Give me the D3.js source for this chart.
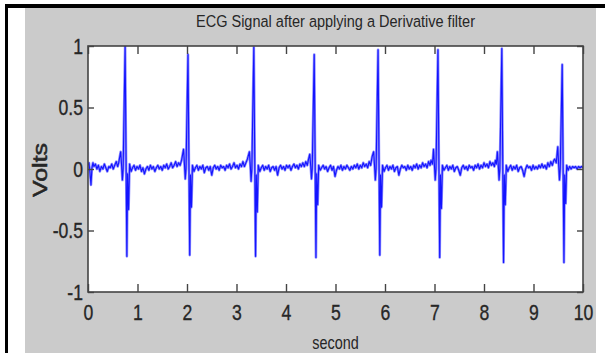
<!DOCTYPE html>
<html>
<head>
<meta charset="utf-8">
<script src="https://cdn.jsdelivr.net/npm/d3@7"></script>
<style>
  body { margin: 0; background: #fff; }
  svg { display: block; }
  text { font-family: "Liberation Sans", Arial, Helvetica, sans-serif; fill: #262626; }
</style>
</head>
<body>
<div id="chart"></div>
<script>
const chartTitle = 'ECG Signal after applying a Derivative filter';
const xLabel = 'second';
const yLabel = 'Volts';
const xTicks = [0, 1, 2, 3, 4, 5, 6, 7, 8, 9, 10];
const yTicks = [-1, -0.5, 0, 0.5, 1];
const yTickLabels = ['-1', '-0.5', '0', '0.5', '1'];

// [second, volts]
const ecgPoints = [
  [0.00,0.03],[0.02,0.05],[0.04,-0.03],[0.06,-0.13],[0.08,0.01],[0.10,0.05],[0.12,0.02],[0.15,0.04],
  [0.18,0.00],[0.21,0.03],[0.24,-0.02],[0.27,0.02],[0.30,0.00],[0.33,0.04],[0.36,0.01],[0.39,-0.02],
  [0.42,0.02],[0.45,0.01],[0.48,0.04],[0.51,0.00],[0.54,0.03],[0.57,0.06],[0.60,0.02],
  [0.62,0.05],[0.66,0.14],[0.68,0.02],[0.695,-0.09],[0.71,0.00],[0.75,1.00],[0.785,-0.71],[0.80,-0.04],
  [0.82,-0.33],[0.84,0.04],[0.87,-0.02],
  [0.90,0.01],[0.93,0.03],[0.96,-0.01],[0.99,0.02],[1.02,0.00],[1.05,0.03],[1.08,-0.02],[1.11,0.01],
  [1.14,-0.04],[1.17,0.00],[1.20,0.02],[1.23,-0.01],[1.26,0.03],[1.29,0.00],[1.32,0.02],[1.35,-0.02],
  [1.38,0.01],[1.41,0.03],[1.44,0.00],[1.47,0.02],[1.50,-0.01],[1.53,0.03],[1.56,0.01],[1.59,0.04],
  [1.62,0.00],[1.65,0.02],[1.68,0.05],[1.71,0.01],[1.74,0.03],[1.77,0.06],[1.80,0.02],[1.83,0.05],
  [1.86,0.03],[1.89,0.07],
  [1.93,0.16],[1.95,0.03],[1.965,-0.08],[1.98,0.00],[2.02,0.93],[2.055,-0.70],[2.07,-0.05],
  [2.09,-0.31],[2.11,0.03],[2.14,-0.02],
  [2.17,0.01],[2.20,0.03],[2.23,-0.01],[2.26,0.02],[2.29,0.00],[2.32,0.03],[2.35,-0.03],[2.38,0.01],
  [2.41,0.02],[2.44,-0.01],[2.47,0.02],[2.50,-0.05],[2.53,0.01],[2.56,0.03],[2.59,0.00],[2.62,0.02],
  [2.65,-0.01],[2.68,0.03],[2.71,0.01],[2.74,0.02],[2.77,-0.01],[2.80,0.03],[2.83,0.01],[2.86,0.04],
  [2.89,0.00],[2.92,0.02],[2.95,0.05],[2.98,0.01],[3.01,0.03],[3.04,0.00],[3.07,0.04],[3.10,0.02],
  [3.13,0.06],[3.16,0.02],[3.19,0.05],[3.22,0.08],
  [3.26,0.14],[3.28,0.02],[3.295,-0.10],[3.31,0.00],[3.35,0.99],[3.385,-0.71],[3.40,-0.05],
  [3.42,-0.35],[3.44,0.03],[3.47,-0.02],
  [3.50,0.01],[3.53,0.03],[3.56,-0.01],[3.59,0.02],[3.62,0.00],[3.65,0.03],[3.68,-0.02],[3.71,0.01],
  [3.74,0.02],[3.77,-0.01],[3.80,0.02],[3.83,-0.05],[3.86,0.01],[3.89,0.03],[3.92,0.00],[3.95,0.02],
  [3.98,-0.01],[4.01,0.03],[4.04,0.01],[4.07,0.03],[4.10,-0.01],[4.13,0.02],[4.16,0.04],[4.19,0.01],
  [4.22,0.03],[4.25,0.00],[4.28,0.04],[4.31,0.02],[4.34,0.05],[4.37,0.02],[4.40,0.06],[4.43,0.03],[4.45,0.07],
  [4.48,0.12],[4.50,0.02],[4.515,-0.08],[4.53,0.00],[4.57,0.93],[4.605,-0.72],[4.62,-0.04],
  [4.64,-0.29],[4.66,0.03],[4.69,-0.01],
  [4.72,0.01],[4.75,0.03],[4.78,0.00],[4.81,0.02],[4.84,-0.02],[4.87,0.01],[4.90,0.03],[4.93,-0.01],
  [4.96,0.02],[4.99,-0.06],[5.02,-0.01],[5.05,0.02],[5.08,0.00],[5.11,0.03],[5.14,-0.01],[5.17,0.02],
  [5.20,0.00],[5.23,0.03],[5.26,0.01],[5.29,-0.01],[5.32,0.02],[5.35,0.00],[5.38,0.03],[5.41,0.01],
  [5.44,0.04],[5.47,0.00],[5.50,0.03],[5.53,0.01],[5.56,0.05],[5.59,0.02],[5.62,0.04],[5.65,0.01],
  [5.68,0.06],[5.71,0.03],
  [5.74,0.10],[5.77,0.14],[5.79,0.02],[5.805,-0.09],[5.82,0.00],[5.86,0.97],[5.895,-0.70],
  [5.91,-0.05],[5.93,-0.31],[5.95,0.03],[5.98,-0.02],
  [6.01,0.01],[6.04,0.03],[6.07,-0.01],[6.10,0.02],[6.13,0.00],[6.16,0.03],[6.19,-0.02],[6.22,0.01],
  [6.25,0.02],[6.28,-0.05],[6.31,0.00],[6.34,0.03],[6.37,0.01],[6.40,0.02],[6.43,-0.01],[6.46,0.03],
  [6.49,0.00],[6.52,0.02],[6.55,-0.01],[6.58,0.03],[6.61,0.01],[6.64,0.04],[6.67,0.00],[6.70,0.03],
  [6.73,0.01],[6.76,0.05],[6.79,0.02],[6.82,0.04],[6.85,0.01],[6.88,0.06],[6.91,0.03],
  [6.93,0.07],[6.96,0.04],[6.98,0.16],[7.00,0.02],[7.015,-0.09],[7.03,0.00],[7.07,0.97],[7.105,-0.72],
  [7.12,-0.05],[7.14,-0.32],[7.16,0.03],[7.19,-0.01],
  [7.22,0.01],[7.25,0.03],[7.28,-0.01],[7.31,0.02],[7.34,0.00],[7.37,0.03],[7.40,-0.02],[7.43,0.01],
  [7.46,0.02],[7.49,-0.01],[7.52,-0.05],[7.55,0.01],[7.58,0.03],[7.61,0.00],[7.64,0.02],[7.67,-0.01],
  [7.70,0.03],[7.73,0.01],[7.76,0.02],[7.79,-0.01],[7.82,0.03],[7.85,0.01],[7.88,0.04],[7.91,0.00],
  [7.94,0.03],[7.97,0.01],[8.00,0.05],[8.03,0.02],[8.06,0.04],[8.09,0.01],[8.12,0.06],[8.15,0.03],
  [8.18,0.05],[8.21,0.02],
  [8.23,0.07],[8.25,0.04],[8.27,0.14],[8.29,0.02],[8.305,-0.09],[8.32,0.00],[8.36,0.98],[8.395,-0.76],
  [8.41,-0.05],[8.43,-0.29],[8.45,0.03],[8.48,-0.02],
  [8.51,0.01],[8.54,0.03],[8.57,-0.01],[8.60,0.02],[8.63,0.00],[8.66,0.03],[8.69,-0.02],[8.72,0.01],
  [8.75,0.02],[8.78,-0.01],[8.81,-0.06],[8.84,0.00],[8.87,0.03],[8.90,0.01],[8.93,0.02],[8.96,-0.01],
  [8.99,0.03],[9.02,0.00],[9.05,0.02],[9.08,0.00],[9.11,0.03],[9.14,0.01],[9.17,0.04],[9.20,0.01],
  [9.23,0.03],[9.26,0.00],[9.29,0.05],[9.32,0.02],[9.35,0.06],[9.38,0.03],[9.41,0.07],
  [9.43,0.08],[9.46,0.05],[9.49,0.18],[9.51,0.02],[9.525,-0.09],[9.54,0.00],[9.58,0.85],[9.615,-0.76],
  [9.63,-0.05],[9.65,-0.28],[9.67,0.03],[9.70,-0.01],
  [9.73,0.02],[9.76,0.00],[9.79,0.02],[9.82,0.01],[9.85,0.02],[9.88,0.00],[9.91,0.02],[9.94,0.01],
  [9.97,0.02],[10.00,0.01]
];

const width = 605, height = 353;
const box = { left: 88, top: 46, right: 583, bottom: 292 };
const axisColor = '#444';

const svg = d3.select('#chart')
  .append('svg')
  .attr('width', width)
  .attr('height', height);

// page frame + grey figure background
svg.append('rect').attr('width', width).attr('height', height).attr('fill', '#fff');
svg.append('rect').attr('x', 25).attr('y', 8).attr('width', 571).attr('height', height - 8).attr('fill', '#cbcbcb');
svg.append('rect').attr('x', 5).attr('y', 4).attr('width', width - 5).attr('height', 4).attr('fill', '#000');
svg.append('rect').attr('x', 5).attr('y', 4).attr('width', 3).attr('height', height - 4).attr('fill', '#000');

svg.append('rect')
  .attr('x', box.left).attr('y', box.top)
  .attr('width', box.right - box.left).attr('height', box.bottom - box.top)
  .attr('fill', '#fff');

const x = d3.scaleLinear().domain([0, 10]).range([box.left, box.right]);
const y = d3.scaleLinear().domain([-1, 1]).range([box.bottom, box.top]);

svg.append('clipPath').attr('id', 'clip')
  .append('rect')
  .attr('x', box.left).attr('y', box.top)
  .attr('width', box.right - box.left).attr('height', box.bottom - box.top);

// signal: soft halo + core, like the blurred scan
const line = d3.line().x(d => x(d[0])).y(d => y(d[1]));
const plotG = svg.append('g').attr('clip-path', 'url(#clip)');
plotG.append('path')
  .datum(ecgPoints)
  .attr('d', line)
  .attr('fill', 'none')
  .attr('stroke', '#8c8cff')
  .attr('stroke-width', 2.6)
  .attr('stroke-linejoin', 'round');
plotG.append('path')
  .datum(ecgPoints)
  .attr('d', line)
  .attr('fill', 'none')
  .attr('stroke', '#1414ff')
  .attr('stroke-width', 1.1)
  .attr('stroke-linejoin', 'round');

// axes, ticks pointing inward (MATLAB style)
const sx = 0.8;
const xAxis = svg.append('g')
  .attr('transform', `translate(0,${box.bottom})`)
  .call(d3.axisBottom(x).tickValues(xTicks).tickSizeInner(-8).tickSizeOuter(0).tickPadding(12).tickFormat(d3.format('d')));
xAxis.selectAll('text')
  .attr('transform', `scale(${sx},1)`)
  .style('font-size', '22px');

const yAxis = svg.append('g')
  .attr('transform', `translate(${box.left},0)`)
  .call(d3.axisLeft(y).tickValues(yTicks).tickSizeInner(-6).tickSizeOuter(0).tickPadding(6)
    .tickFormat((d, i) => yTickLabels[i]));
yAxis.selectAll('text')
  .attr('transform', `scale(${sx},1)`)
  .attr('x', -5 / sx)
  .style('font-size', '22px');

svg.append('g')
  .attr('transform', `translate(0,${box.top})`)
  .call(d3.axisTop(x).tickValues(xTicks).tickSizeInner(-8).tickSizeOuter(0).tickFormat(''));
svg.append('g')
  .attr('transform', `translate(${box.right},0)`)
  .call(d3.axisRight(y).tickValues(yTicks).tickSizeInner(-6).tickSizeOuter(0).tickFormat(''));

svg.selectAll('.domain').remove();
svg.selectAll('.tick line').attr('stroke', axisColor).attr('stroke-width', 1.4);
svg.selectAll('.tick text')
  .style('font-family', '"Liberation Sans", Arial, sans-serif')
  .attr('fill', '#262626')
  .attr('stroke', '#262626')
  .attr('stroke-width', 0.35);

svg.append('rect')
  .attr('x', box.left).attr('y', box.top)
  .attr('width', box.right - box.left).attr('height', box.bottom - box.top)
  .attr('fill', 'none')
  .attr('stroke', axisColor)
  .attr('stroke-width', 1.6);

// labels
svg.append('text')
  .attr('transform', `translate(${(box.left + box.right) / 2},27) scale(0.88,1)`)
  .attr('text-anchor', 'middle')
  .style('font-size', '16.5px')
  .text(chartTitle);

svg.append('text')
  .attr('transform', `translate(${(box.left + box.right) / 2},349) scale(${sx},1)`)
  .attr('text-anchor', 'middle')
  .style('font-size', '18px')
  .text(xLabel);

svg.append('text')
  .attr('transform', `translate(47,170) rotate(-90) scale(1.28,1)`)
  .attr('text-anchor', 'middle')
  .attr('stroke', '#262626')
  .attr('stroke-width', 0.5)
  .style('font-size', '19.5px')
  .text(yLabel);
</script>
</body>
</html>
